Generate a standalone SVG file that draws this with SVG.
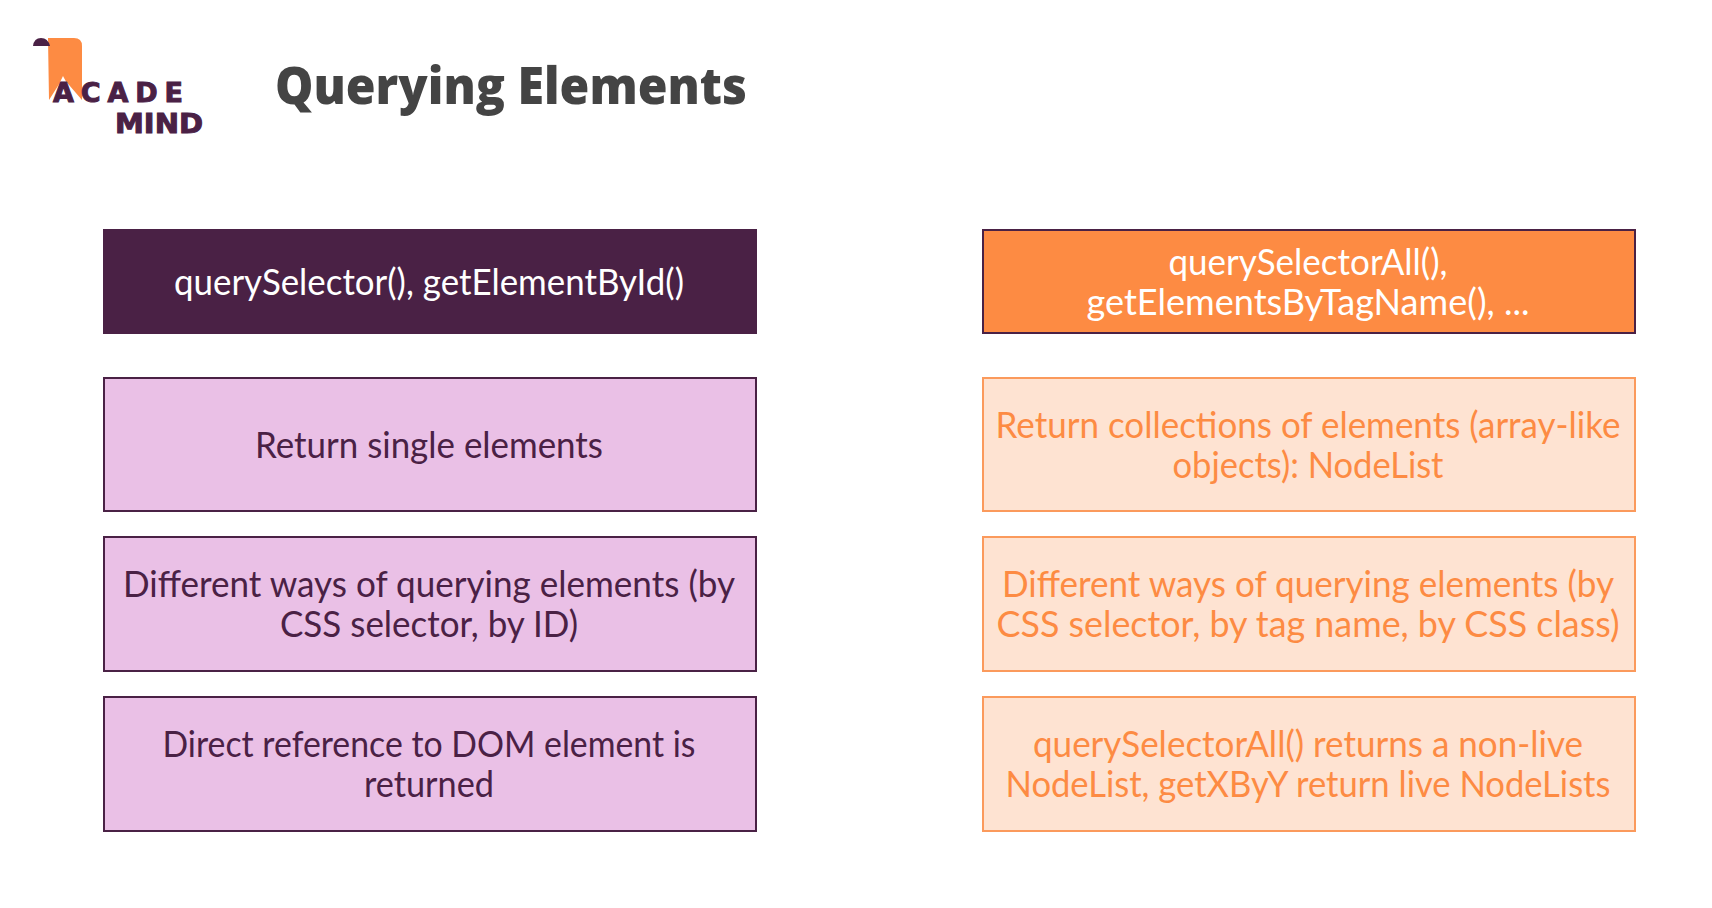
<svg xmlns="http://www.w3.org/2000/svg" width="1712" height="908" viewBox="0 0 1712 908">
<style>
text{font-family:"Lato","Noto Sans",sans-serif;font-size:36px;text-anchor:middle}
.box{stroke-width:2}
.p{fill:#4a2145}.o{fill:#fd8b43}.w{fill:#fff}
.pb{fill:#eac0e6;stroke:#4a2145}.ob{fill:#fee3d2;stroke:#fb9a5c}
.logo{font-family:"DejaVu Sans",sans-serif;font-weight:700;font-size:27px;fill:#4a2145;stroke:#4a2145;stroke-width:1}
</style>
<rect width="1712" height="908" fill="#fff"/>
<g id="logo">
<path d="M48 38H74Q82 38 82 46V100L63 78L49 100Z" class="o"/>
<path d="M33 46Q34 38 41 38Q48 38 50 46Z" class="p"/>
<path d="M63 76L50 103H77Z" class="w"/>
<text class="logo" x="118" y="102" textLength="130" lengthAdjust="spacing">ACADE</text>
<text class="logo" x="159" y="133" textLength="88" lengthAdjust="spacingAndGlyphs">MIND</text>
</g>
<text id="title" x="511" y="104" style="font-family:'Open Sans',sans-serif;font-weight:800;font-size:51px;fill:#444" textLength="472" lengthAdjust="spacingAndGlyphs">Querying Elements</text>
<g id="connectors"></g>
<g id="n1"><rect class="box" x="104" y="230" width="652" height="103" fill="#4a2145" stroke="#4a2145"/><text class="w" x="429" y="295" textLength="510" lengthAdjust="spacingAndGlyphs">querySelector(), getElementById()</text></g>
<g id="n2"><rect class="box pb" x="104" y="378" width="652" height="133"/><text class="p" x="429" y="458" textLength="348" lengthAdjust="spacingAndGlyphs">Return single elements</text></g>
<g id="n3"><rect class="box pb" x="104" y="537" width="652" height="134"/><text class="p" x="429" y="597" textLength="612" lengthAdjust="spacingAndGlyphs">Different ways of querying elements (by</text><text class="p" x="429" y="637" textLength="298" lengthAdjust="spacingAndGlyphs">CSS selector, by ID)</text></g>
<g id="n4"><rect class="box pb" x="104" y="697" width="652" height="134"/><text class="p" x="429" y="757" textLength="533" lengthAdjust="spacingAndGlyphs">Direct reference to DOM element is</text><text class="p" x="429" y="797" textLength="130" lengthAdjust="spacingAndGlyphs">returned</text></g>
<g id="n5"><rect class="box" x="983" y="230" width="652" height="103" fill="#fd8b43" stroke="#4a2145"/><text class="w" x="1308" y="275" textLength="279" lengthAdjust="spacingAndGlyphs">querySelectorAll(),</text><text class="w" x="1308" y="315" textLength="443" lengthAdjust="spacingAndGlyphs">getElementsByTagName(), ...</text></g>
<g id="n6"><rect class="box ob" x="983" y="378" width="652" height="133"/><text class="o" x="1308" y="438" textLength="625" lengthAdjust="spacingAndGlyphs">Return collections of elements (array-like</text><text class="o" x="1308" y="478" textLength="271" lengthAdjust="spacingAndGlyphs">objects): NodeList</text></g>
<g id="n7"><rect class="box ob" x="983" y="537" width="652" height="134"/><text class="o" x="1308" y="597" textLength="612" lengthAdjust="spacingAndGlyphs">Different ways of querying elements (by</text><text class="o" x="1308" y="637" textLength="623" lengthAdjust="spacingAndGlyphs">CSS selector, by tag name, by CSS class)</text></g>
<g id="n8"><rect class="box ob" x="983" y="697" width="652" height="134"/><text class="o" x="1308" y="757" textLength="550" lengthAdjust="spacingAndGlyphs">querySelectorAll() returns a non-live</text><text class="o" x="1308" y="797" textLength="605" lengthAdjust="spacingAndGlyphs">NodeList, getXByY return live NodeLists</text></g>
</svg>
